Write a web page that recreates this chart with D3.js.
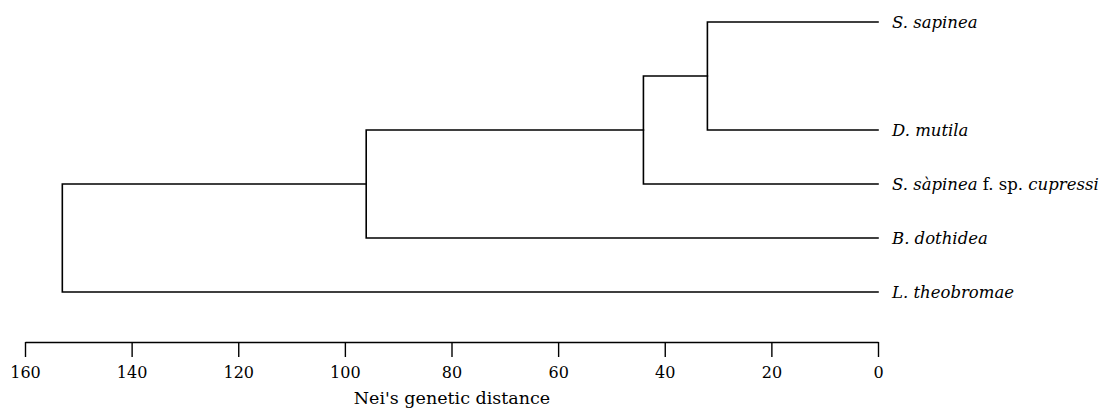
<!DOCTYPE html>
<html>
<head>
<meta charset="utf-8">
<script src="https://cdn.jsdelivr.net/npm/d3@7"></script>
<style>
  html, body { margin: 0; padding: 0; background: #fff; }
  svg { display: block; }
</style>
</head>
<body>
<svg id="chart" width="1120" height="417"></svg>
<script>
// ---- data ----
const leaves = ["S. sapinea", "D. mutila", "S. sapinea f. sp. cupressi", "B. dothidea", "L. theobromae"];
const leafRows = [0, 2, 3, 4, 5];           // vertical order (gap after S. sapinea as in the original)
const joinA = ["S. sapinea", "N1", "N2", "N3"];
const joinB = ["D. mutila", "S. sapinea f. sp. cupressi", "B. dothidea", "L. theobromae"];
const joinName = ["N1", "N2", "N3", "N4"];
const joinHeight = [32, 44, 96, 153];        // Nei's genetic distance at which clusters join
const tickValues = [160, 140, 120, 100, 80, 60, 40, 20, 0];
const axisTitle = "Nei's genetic distance";

// ---- scales ----
const svg = d3.select("#chart");
const x = d3.scaleLinear().domain([160, 0]).range([25, 878]);
const y = d3.scaleLinear().domain([0, 5]).range([22, 292]);

// node table built from arrays
const nodes = {};
leaves.forEach((name, i) => { nodes[name] = { h: 0, y: y(leafRows[i]) }; });
joinName.forEach((n, i) => {
  const a = nodes[joinA[i]], b = nodes[joinB[i]];
  nodes[n] = { h: joinHeight[i], y: (a.y + b.y) / 2, a: joinA[i], b: joinB[i] };
});

const g = svg.append("g")
  .attr("fill", "none")
  .attr("stroke", "#000")
  .attr("stroke-width", 1.6)
  .attr("stroke-linecap", "square");

joinName.forEach(n => {
  const nd = nodes[n];
  const ca = nodes[nd.a], cb = nodes[nd.b];
  const path = d3.path();
  path.moveTo(x(ca.h), ca.y);
  path.lineTo(x(nd.h), ca.y);
  path.lineTo(x(nd.h), cb.y);
  path.lineTo(x(cb.h), cb.y);
  g.append("path").attr("d", path.toString());
});

// ---- leaf labels ----
const fontFam = "'DejaVu Serif', 'Liberation Serif', serif";
const labG = svg.append("g")
  .attr("font-family", fontFam)
  .attr("font-size", 16.5)
  .attr("fill", "#000");

leaves.forEach((name, i) => {
  const t = labG.append("text")
    .attr("x", 892)
    .attr("y", y(leafRows[i]) + 6);
  if (name.includes(" f. sp. ")) {
    const [pre, post] = name.split(" f. sp. ");
    t.append("tspan").attr("font-style", "italic").text(pre.replace("sapinea", "sàpinea"));
    t.append("tspan").text(" f. sp. ");
    t.append("tspan").attr("font-style", "italic").text(post);
  } else {
    t.attr("font-style", "italic").text(name);
  }
});

// ---- axis ----
const axis = d3.axisBottom(x)
  .tickValues(tickValues)
  .tickFormat(d3.format("d"))
  .tickSize(15)
  .tickSizeOuter(0)
  .tickPadding(10);

const ax = svg.append("g")
  .attr("transform", "translate(0,342)")
  .call(axis);
ax.select(".domain").attr("stroke-width", 1.6);
ax.selectAll(".tick line").attr("stroke-width", 1.4);
ax.selectAll(".tick text")
  .attr("font-family", fontFam)
  .attr("font-size", 16)
  .attr("fill", "#000");

svg.append("text")
  .attr("x", 452)
  .attr("y", 404)
  .attr("text-anchor", "middle")
  .attr("font-family", fontFam)
  .attr("font-size", 17.5)
  .attr("fill", "#000")
  .text(axisTitle);
</script>
</body>
</html>
